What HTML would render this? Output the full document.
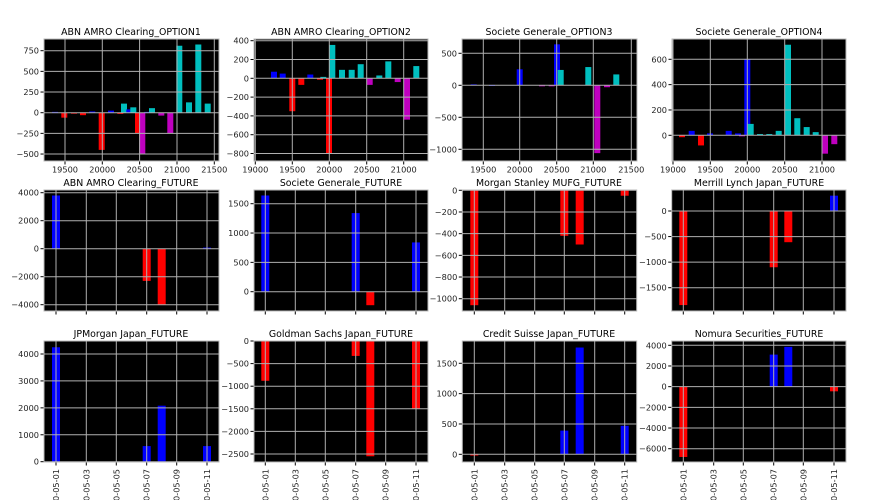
<!DOCTYPE html>
<html><head><meta charset="utf-8"><style>
html,body{margin:0;background:#fff;width:890px;height:500px;overflow:hidden;}
svg{display:block;font-family:"DejaVu Sans","Liberation Sans",sans-serif;}
</style></head><body>
<svg id="s" width="890" height="500" xmlns="http://www.w3.org/2000/svg">
<g font-size="9.4" text-anchor="middle">
<text x="131" y="35">ABN AMRO Clearing_OPTION1</text>
<text x="341" y="35">ABN AMRO Clearing_OPTION2</text>
<text x="549" y="35">Societe Generale_OPTION3</text>
<text x="759" y="35">Societe Generale_OPTION4</text>
<text x="131" y="186">ABN AMRO Clearing_FUTURE</text>
<text x="341" y="186">Societe Generale_FUTURE</text>
<text x="549" y="186">Morgan Stanley MUFG_FUTURE</text>
<text x="759" y="186">Merrill Lynch Japan_FUTURE</text>
<text x="131" y="337">JPMorgan Japan_FUTURE</text>
<text x="341" y="337">Goldman Sachs Japan_FUTURE</text>
<text x="549" y="337">Credit Suisse Japan_FUTURE</text>
<text x="759" y="337">Nomura Securities_FUTURE</text>
</g>
</svg>
<script>
var S=document.getElementById('s'),NS="http://www.w3.org/2000/svg";
function el(t,a,txt){var e=document.createElementNS(NS,t);for(var k in a)e.setAttribute(k,a[k]);if(txt!=null)e.textContent=txt;S.appendChild(e);return e;}
var C={b:"#0000ff",r:"#ff0000",c:"#00bfbf",m:"#bf00bf"};
var FS=8.2;
function P(o){
 var m=(o.p2-o.p1)/(o.v2-o.v1);function Y(v){return o.p1+(v-o.v1)*m;}
 el('rect',{x:o.x0,y:o.y0,width:o.x1-o.x0,height:o.y1-o.y0,fill:'#000'});
 var y0=Y(0);
 o.bars.forEach(function(b){var y=Y(b[1]);var t=Math.max(o.y0,Math.min(y,y0)),bt=Math.min(o.y1,Math.max(y,y0));
  el('rect',{x:b[0]-o.bw/2,y:t,width:o.bw,height:Math.max(bt-t,1),fill:C[b[2]]});});
 o.yt.forEach(function(v){var y=Y(v);el('line',{x1:o.x0,x2:o.x1,y1:y,y2:y,stroke:'#b0b0b0','stroke-width':1});
  el('line',{x1:o.x0-3.5,x2:o.x0,y1:y,y2:y,stroke:'#000'});
  el('text',{x:o.x0-5,y:y+3,'font-size':FS,'text-anchor':'end',fill:'#222'},(v<0?'\u2212'+(-v):''+v));});
 o.xt.forEach(function(t){el('line',{x1:t[0],x2:t[0],y1:o.y0,y2:o.y1,stroke:'#b0b0b0','stroke-width':1});
  el('line',{x1:t[0],x2:t[0],y1:o.y1,y2:o.y1+3.5,stroke:'#000'});
  if(t[1]){if(o.rot){el('text',{x:0,y:0,'font-size':FS,'text-anchor':'end',fill:'#222',transform:'translate('+(t[0]+3)+','+(o.y1+7)+') rotate(-90)'},t[1]);}
   else el('text',{x:t[0],y:o.y1+11.5,'font-size':FS,'text-anchor':'middle',fill:'#222'},t[1]);}});
 el('rect',{x:o.x0,y:o.y0,width:o.x1-o.x0,height:o.y1-o.y0,fill:'none',stroke:'#bbb','stroke-width':1});
}
function XT(a,l){return a.map(function(x,i){return [x,l?l[i]:null];});}
var dl=['2020-05-01','2020-05-03','2020-05-05','2020-05-07','2020-05-09','2020-05-11'];
var LX=[56,86.3,116.3,146.7,176.7,207],MX=[265.3,295.3,325.3,355.7,385.7,416],RX=[474.3,504.7,534.7,564.3,594.7,624.7],FX=[683.3,713.7,743.3,773.7,803.3,834];
P({x0:44,x1:219,y0:39,y1:161,v1:750,p1:50.7,v2:0,p2:112.7,yt:[750,500,250,0,-250,-500],
 xt:XT([65,102.3,139.6,177,214.3],['19500','20000','20500','21000','21500']),bw:6,
 bars:[[55,10,'b'],[64.3,-60,'r'],[74,-10,'r'],[83,-30,'r'],[92.3,15,'b'],[101.7,-450,'r'],[111,25,'b'],[120.3,-15,'r'],[124,110,'c'],[129.3,40,'b'],[133.3,65,'c'],[138,-250,'r'],[142.3,-500,'m'],[147,10,'b'],[152,55,'c'],[161.3,-35,'m'],[170.3,-250,'m'],[179.3,810,'c'],[189,125,'c'],[198.3,825,'c'],[207.7,110,'c']]});
P({x0:254,x1:428,y0:39,y1:161,v1:400,p1:40.7,v2:0,p2:78.3,yt:[400,200,0,-200,-400,-600,-800],
 xt:XT([255.3,292.3,329.3,366.7,403.7],['19000','19500','20000','20500','21000']),bw:6,
 bars:[[274,70,'b'],[282.7,50,'b'],[292.3,-350,'r'],[301.3,-70,'r'],[310.3,40,'b'],[320,-15,'r'],[323.3,15,'c'],[329,-800,'r'],[332.3,355,'c'],[342,90,'c'],[351.7,90,'c'],[360.7,150,'c'],[369.7,-70,'m'],[379.3,30,'c'],[388.3,180,'c'],[397.7,-40,'m'],[407,-440,'m'],[416.3,130,'c']]});
P({x0:462,x1:637,y0:39,y1:161,v1:500,p1:53.3,v2:-1000,p2:149.3,yt:[500,0,-500,-1000],
 xt:XT([483.3,519.7,556.7,593.3,631.3],['19500','20000','20500','21000','21500']),bw:6,
 bars:[[473.7,15,'b'],[492,5,'b'],[519.7,250,'b'],[542,-10,'m'],[551.7,-10,'m'],[557,640,'b'],[560.7,240,'c'],[588.3,285,'c'],[597.3,-1060,'m'],[607,-30,'m'],[616.3,170,'c']]});
P({x0:672,x1:846,y0:39,y1:161,v1:600,p1:59.3,v2:0,p2:135.3,yt:[600,400,200,0],
 xt:XT([673,710.3,747.3,784.7,822],['19000','19500','20000','20500','21000']),bw:6,
 bars:[[682,-15,'r'],[691.7,35,'b'],[701,-80,'r'],[710,15,'b'],[728.7,35,'b'],[738,15,'b'],[742,-5,'m'],[747.3,600,'b'],[750.7,90,'c'],[760,10,'c'],[769.3,10,'c'],[778.7,35,'c'],[788,715,'c'],[797.3,135,'c'],[806.7,65,'c'],[815.7,25,'c'],[825,-145,'m'],[834.3,-70,'m']]});
P({x0:44,x1:219,y0:190,y1:311,v1:4000,p1:192.7,v2:-4000,p2:304.7,yt:[4000,2000,0,-2000,-4000],xt:XT(LX),bw:8,
 bars:[[56,3800,'b'],[146.7,-2300,'r'],[161.7,-4000,'r'],[207,80,'b']]});
P({x0:254,x1:428,y0:190,y1:311,v1:1500,p1:203.7,v2:0,p2:291.7,yt:[1500,1000,500,0],xt:XT(MX),bw:8,
 bars:[[265.3,1640,'b'],[355.7,1340,'b'],[370.3,-230,'r'],[416,840,'b']]});
P({x0:462.3,x1:636.7,y0:190,y1:311,v1:0,p1:190.3,v2:-1000,p2:298.7,yt:[0,-200,-400,-600,-800,-1000],xt:XT(RX),bw:8,
 bars:[[474.3,-1060,'r'],[564.3,-420,'r'],[579.7,-500,'r'],[624.7,-50,'r']]});
P({x0:671.7,x1:846,y0:190,y1:311,v1:0,p1:211,v2:-1500,p2:287.7,yt:[0,-500,-1000,-1500],xt:XT(FX),bw:8,
 bars:[[683.3,-1840,'r'],[773.7,-1100,'r'],[788.3,-610,'r'],[834,300,'b']]});
P({x0:44,x1:219,y0:341,y1:462,v1:4000,p1:354,v2:0,p2:461.7,yt:[4000,3000,2000,1000,0],xt:XT(LX,dl),rot:1,bw:8,
 bars:[[56,4250,'b'],[146.7,580,'b'],[161.7,2080,'b'],[207,580,'b']]});
P({x0:254,x1:428,y0:341,y1:462,v1:0,p1:341,v2:-2500,p2:454,yt:[0,-500,-1000,-1500,-2000,-2500],xt:XT(MX,dl),rot:1,bw:8,
 bars:[[265.3,-880,'r'],[355.7,-330,'r'],[370.3,-2550,'r'],[416,-1500,'r']]});
P({x0:462.3,x1:636.7,y0:341,y1:462,v1:0,p1:454.3,v2:1500,p2:363.3,yt:[0,500,1000,1500],xt:XT(RX,dl),rot:1,bw:8,
 bars:[[474.3,-20,'r'],[564.3,390,'b'],[579.7,1760,'b'],[624.7,470,'b']]});
P({x0:671.7,x1:846,y0:341,y1:462,v1:4000,p1:345.3,v2:-6000,p2:448.7,yt:[4000,2000,0,-2000,-4000,-6000],xt:XT(FX,dl),rot:1,bw:8,
 bars:[[683.3,-6800,'r'],[773.7,3100,'b'],[788.3,3850,'b'],[834,-450,'r']]});
</script>
</body></html>
